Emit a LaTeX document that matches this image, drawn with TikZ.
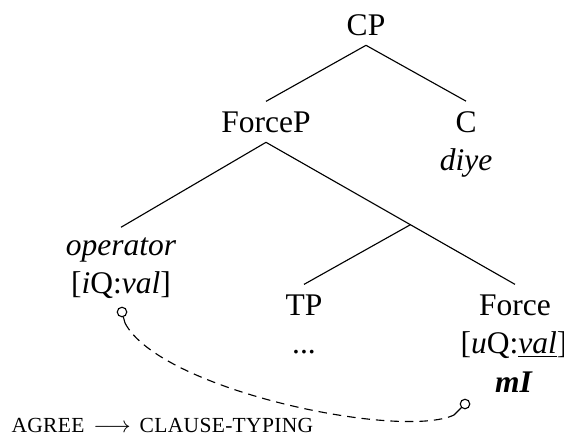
\documentclass[tikz,border=0pt]{standalone}
\usepackage{fontspec}
\setmainfont{Liberation Serif}
\usetikzlibrary{calc}
\newcommand\fakesc[1]{{\fontsize{8.6}{10}\selectfont\addfontfeature{LetterSpace=1.5}#1}}
\begin{document}
\begin{tikzpicture}[x=0.4pt,y=-0.4pt,
  lab/.style={inner sep=0pt, outer sep=4pt, anchor=base, font=\fontsize{12.6}{15}\selectfont},
  link/.style={line width=0.45pt},
  agree/.style={dash pattern=on 3.4pt off 2.4pt, line width=0.45pt},
  probe/.style={circle, draw, inner sep=0pt, minimum size=3.8pt, line width=0.45pt}]
\useasboundingbox (0,0) rectangle (564,434);
% nodes
\node[lab] (CP) at (366,35) {CP};
\node[lab] (ForceP) at (266,132) {ForceP};
\node[lab] (C) at (466,132) {C};
\node[lab] (diye) at (466,170) {\textit{diye}};
\node[lab] (op) at (121,255) {\textit{operator}};
\node[lab] (iq) at (121,293) {[\textit{i}Q:\textit{val}]};
\node[lab] (TP) at (304,315) {TP};
\node[lab] (dots) at (304,353) {...};
\node[lab] (Force) at (515,315) {Force};
\node[lab] (uq) at (514,353) {[\textit{u}Q:\underline{\textit{val}}]};
\node[lab] (mI) at (514,392) {\textbf{\textit{mI}}};
\node[inner sep=0pt, anchor=base west, font=\fontsize{12}{14}\selectfont] (rule) at (11,432)
  {\fakesc{AGREE}\hspace{3.6pt}{\fontsize{9}{10}\selectfont$\longrightarrow$}\hspace{3.6pt}\fakesc{CLAUSE-TYPING}};
% tree
\draw[link] (CP.south) -- (ForceP.north);
\draw[link] (CP.south) -- (C.north);
\coordinate (split) at ($(ForceP.south)!0.58!(Force.north)$);
\draw[link] (ForceP.south) -- (op.north);
\draw[link] (ForceP.south) -- (Force.north);
\draw[link] (split) -- (TP.north);
% agree link
\node[probe] (p1) at (122,312) {};
\node[probe] (p2) at (465,404) {};
\coordinate (s1) at (125,323);
\coordinate (s2) at (454,415);
\draw[link] (p1) -- (s1);
\draw[link] (p2) -- (s2);
\draw[agree] (s1) .. controls (160,390) and (400,440) .. (s2);
\end{tikzpicture}
\end{document}
